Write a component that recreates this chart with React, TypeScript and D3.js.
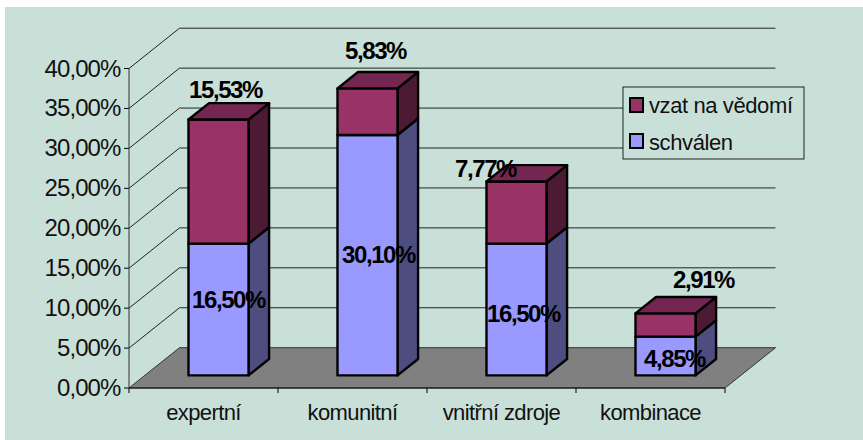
import React from "react";
import * as d3 from "d3";

const categories = ["expertní", "komunitní", "vnitřní zdroje", "kombinace"];
const schvalen = [16.5, 30.1, 16.5, 4.85];
const vzatNaVedomi = [15.53, 5.83, 7.77, 2.91];
const yTicks = [0, 5, 10, 15, 20, 25, 30, 35, 40];
const seriesNames = ["vzat na vědomí", "schválen"];

// label nudges from the segment reference points (layout only)
const lowerNudge = [[10, -1], [11, 8], [7, 13], [9, 11]].map(([x, y]) => ({ x, y }));
const upperNudge = [[7, -22], [8, -29.5], [-31, -5], [38, -25]].map(([x, y]) => ({ x, y }));

const W = 863, H = 440;
const x0 = 129, x1 = 725, y0 = 388, y40 = 68.5;
const depthX = 50.5, depthY = 40.3;
const front = 0.313, back = 0.72;

const MAROON = "#993366", MAROON_TOP = "#732650", MAROON_SIDE = "#4d1a33";
const BLUE = "#9999ff", BLUE_SIDE = "#4d4d80";
const FONT = "'Liberation Sans', Arial, sans-serif";

const fmt = (v: number) => v.toFixed(2).replace(".", ",") + "%";

export default function App() {
  const xScale = d3.scaleBand<string>().domain(categories).range([x0, x1]).paddingInner(0).paddingOuter(0);
  const y = d3.scaleLinear().domain([0, 40]).range([y0, y40]);
  const barW = xScale.bandwidth() * 0.403;
  const p = (px: number, v: number, d: number): [number, number] => [px + d * depthX, y(v) - d * depthY];
  const poly = (pts: [number, number][]) => (d3.line()(pts) as string) + "Z";

  const stack = categories.map((c, i) => {
    const cx = (xScale(c) as number) + xScale.bandwidth() / 2 - 0.8;
    const l = cx - barW / 2, r = cx + barW / 2;
    const segs = [
      { from: 0, to: schvalen[i], face: BLUE, side: BLUE_SIDE },
      { from: schvalen[i], to: schvalen[i] + vzatNaVedomi[i], face: MAROON, side: MAROON_SIDE },
    ];
    return { c, i, l, r, segs, top: schvalen[i] + vzatNaVedomi[i] };
  });

  const floor = poly([p(x0, 0, 0), p(x1, 0, 0), p(x1, 0, 1), p(x0, 0, 1)]);

  return (
    <svg width={W} height={H} style={{ position: "fixed", left: 0, top: 0, display: "block" }} fontFamily={FONT}>
      <rect x={0} y={0} width={W} height={H} fill="#ffffff" />
      <rect x={5} y={7} width={W - 5} height={H - 7} fill="#c9e0d8" />

      <path d={floor} fill="#808080" stroke="#333" strokeWidth={1} />

      {yTicks.map((t) => {
        const a = p(x0, t, 0), b = p(x0, t, 1), c = p(x1, t, 1);
        return (
          <g key={t}>
            {t > 0 && <path d={d3.line()([a, b, c]) as string} fill="none" stroke="#222" strokeWidth={1} />}
            <line x1={x0 - 5} x2={x0} y1={a[1]} y2={a[1]} stroke="#000" />
            <text x={120.5} y={a[1] + 8} textAnchor="end" fontSize={24} letterSpacing={-0.9} fill="#111">{fmt(t)}</text>
          </g>
        );
      })}
      <line x1={x0} x2={x0} y1={y0} y2={y40} stroke="#333" />
      <line x1={x0} x2={x1} y1={y0} y2={y0} stroke="#111" />
      {[...categories.map((c) => xScale(c) as number), x1].map((tx) => (
        <line key={tx} x1={tx} x2={tx} y1={y0} y2={y0 + 5} stroke="#000" />
      ))}
      {categories.map((c) => (
        <text key={c} x={(xScale(c) as number) + xScale.bandwidth() / 2} y={420} textAnchor="middle" fontSize={22} letterSpacing={-0.6} fill="#111">{c}</text>
      ))}

      {stack.map((b) => (
        <g key={b.c} stroke="#000" strokeWidth={2.4} strokeLinejoin="round">
          {b.segs.map((s) => (
            <g key={s.from}>
              <path d={poly([p(b.r, s.from, front), p(b.r, s.from, back), p(b.r, s.to, back), p(b.r, s.to, front)])} fill={s.side} />
              <path d={poly([p(b.l, s.from, front), p(b.r, s.from, front), p(b.r, s.to, front), p(b.l, s.to, front)])} fill={s.face} />
            </g>
          ))}
          <path d={poly([p(b.l, b.top, front), p(b.r, b.top, front), p(b.r, b.top, back), p(b.l, b.top, back)])} fill={MAROON_TOP} />
        </g>
      ))}

      {stack.map((b) => {
        const cx = (b.l + b.r) / 2;
        const lowMid = p(cx, schvalen[b.i] / 2, front);
        const topPt = p(cx, b.top, front);
        return (
          <g key={b.c} fontWeight="bold" fontSize={24} letterSpacing={-1.4} textAnchor="middle" fill="#000">
            <text x={lowMid[0] + lowerNudge[b.i].x} y={lowMid[1] + lowerNudge[b.i].y}>{fmt(schvalen[b.i])}</text>
            <text x={topPt[0] + upperNudge[b.i].x} y={topPt[1] + upperNudge[b.i].y}>{fmt(vzatNaVedomi[b.i])}</text>
          </g>
        );
      })}

      <rect x={623} y={87} width={181} height={72} fill="#c9e0d8" stroke="#222" strokeWidth={1} />
      {seriesNames.map((n, i) => (
        <g key={n}>
          <rect x={630} y={98 + i * 36} width={13} height={14} fill={i === 0 ? MAROON : BLUE} stroke="#000" strokeWidth={2} />
          <text x={649} y={113 + i * 37} fontSize={22} letterSpacing={-0.4} fill="#111">{n}</text>
        </g>
      ))}
    </svg>
  );
}
